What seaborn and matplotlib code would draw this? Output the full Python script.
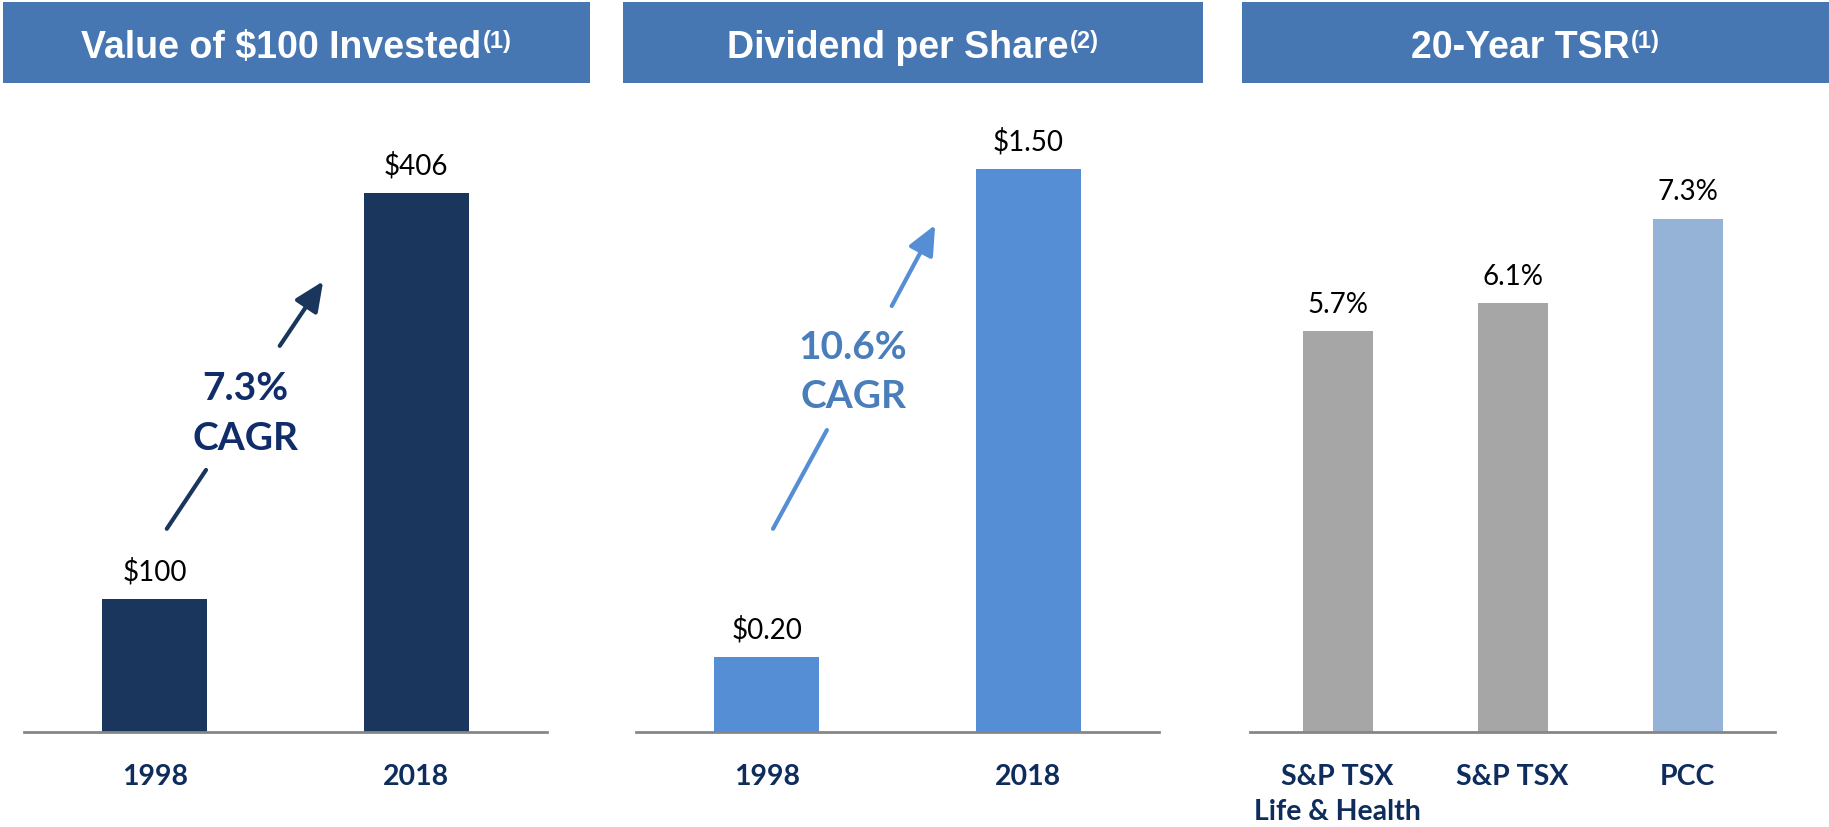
import numpy as np
import pandas as pd
import matplotlib
matplotlib.use("Agg")
import matplotlib.pyplot as plt
import seaborn as sns
from matplotlib.patches import Rectangle

# ---------------- data ----------------
years = ["1998", "2018"]
invested_values = [100, 406]
invested_labels = ["$100", "$406"]
dividend_values = [0.20, 1.50]
dividend_labels = ["$0.20", "$1.50"]
tsr_categories = ["S&P TSX\nLife & Health", "S&P TSX", "PCC"]
tsr_values = [5.7, 6.1, 7.3]
tsr_labels = ["5.7%", "6.1%", "7.3%"]

titles = ["Value of $100 Invested", "Dividend per Share", "20-Year TSR"]
title_notes = ["(1)", "(2)", "(1)"]
cagr_texts = ["7.3%\nCAGR", "10.6%\nCAGR"]

# ---------------- style ----------------
sns.set_theme(style="white")
plt.rcParams["font.family"] = ["Lato", "DejaVu Sans"]

NAVY_BAR = "#1B365D"
BLUE_BAR = "#558ED5"
GRAY_BAR = "#A6A6A6"
LIGHT_BAR = "#95B3D7"
HEADER = "#4677B2"
TICK_COLOR = "#0E2C5C"
AXIS_COLOR = "#868686"

W, H = 1829, 828
fig = plt.figure(figsize=(W / 100, H / 100), dpi=100)


def px_axes(left, width, top=100, bottom=733):
    return fig.add_axes([left / W, 1 - bottom / H, width / W, (bottom - top) / H])


def draw_panel(ax, cats, vals, labels, colors, ymax):
    df = pd.DataFrame({"cat": cats, "val": vals})
    sns.barplot(data=df, x="cat", y="val", hue="cat", palette=colors,
                width=0.4, saturation=1, linewidth=0, legend=False, ax=ax)
    ax.set_xlim(-0.5, len(cats) - 0.5)
    ax.set_ylim(0, ymax)
    ax.set_xlabel("")
    ax.set_ylabel("")
    ax.set_yticks([])
    for side in ["left", "right", "top"]:
        ax.spines[side].set_visible(False)
    ax.spines["bottom"].set_color(AXIS_COLOR)
    ax.spines["bottom"].set_linewidth(2)
    ax.tick_params(axis="x", length=0, pad=22, labelsize=20.5, labelcolor=TICK_COLOR)
    for lbl in ax.get_xticklabels():
        lbl.set_fontweight("bold")
        lbl.set_linespacing(1.45)
    for p, lab in zip(ax.patches, labels):
        ax.annotate(lab, xy=(p.get_x() + p.get_width() / 2, p.get_height()),
                    xytext=(0, 14), textcoords="offset points",
                    ha="center", va="baseline", fontsize=20, color="black")


ax1 = px_axes(24, 523)
draw_panel(ax1, years, invested_values, invested_labels, [NAVY_BAR, NAVY_BAR], 476.5)
ax2 = px_axes(636, 523)
draw_panel(ax2, years, dividend_values, dividend_labels, [BLUE_BAR, BLUE_BAR], 1.687)
ax3 = px_axes(1250, 525)
draw_panel(ax3, tsr_categories, tsr_values, tsr_labels, [GRAY_BAR, GRAY_BAR, LIGHT_BAR], 9.0)


# ---------------- CAGR arrows ----------------
def cagr_arrow(ax, seg_low, seg_up, text_xy, text, arrow_color, text_color):
    ax.annotate("", xy=seg_low[1], xytext=seg_low[0], xycoords="axes fraction",
                arrowprops=dict(arrowstyle="-", lw=3, color=arrow_color,
                                shrinkA=0, shrinkB=0))
    ax.annotate("", xy=seg_up[1], xytext=seg_up[0], xycoords="axes fraction",
                arrowprops=dict(arrowstyle="-|>,head_length=1.0,head_width=0.45",
                                mutation_scale=18, lw=3, color=arrow_color,
                                shrinkA=0, shrinkB=0))
    ax.text(text_xy[0], text_xy[1], text, transform=ax.transAxes, ha="center",
            va="center", fontsize=28, fontweight="bold", color=text_color,
            linespacing=1.5)


cagr_arrow(ax1, [(0.273, 0.321), (0.348, 0.414)], [(0.489, 0.610), (0.572, 0.712)],
           (0.423, 0.505), cagr_texts[0], NAVY_BAR, "#102D69")
cagr_arrow(ax2, [(0.262, 0.321), (0.365, 0.477)], [(0.489, 0.673), (0.572, 0.801)],
           (0.415, 0.570), cagr_texts[1], BLUE_BAR, "#4A7EBB")

# ---------------- headers ----------------
header_spans = [(3, 590), (623, 1203), (1242, 1829)]
renderer = fig.canvas.get_renderer()
for (x0, x1), title, note in zip(header_spans, titles, title_notes):
    fig.add_artist(Rectangle((x0 / W, 1 - 84 / H), (x1 - x0) / W, 81 / H,
                             transform=fig.transFigure, facecolor=HEADER,
                             edgecolor="none"))
    t = fig.text(0, 1 - 58 / H, title, ha="left", va="baseline", fontsize=27,
                 fontweight="bold", family=["Liberation Sans", "DejaVu Sans"],
                 color="white")
    s = fig.text(0, 1 - 48 / H, note, ha="left", va="baseline", fontsize=17,
                 fontweight="bold", family=["Liberation Sans", "DejaVu Sans"],
                 color="white")
    w1 = t.get_window_extent(renderer).width
    w2 = s.get_window_extent(renderer).width
    start = (x0 + x1) / 2 - (w1 + 2 + w2) / 2
    t.set_x(start / W)
    s.set_x((start + w1 + 2) / W)

fig.savefig("out.png", dpi=100, facecolor="white")
